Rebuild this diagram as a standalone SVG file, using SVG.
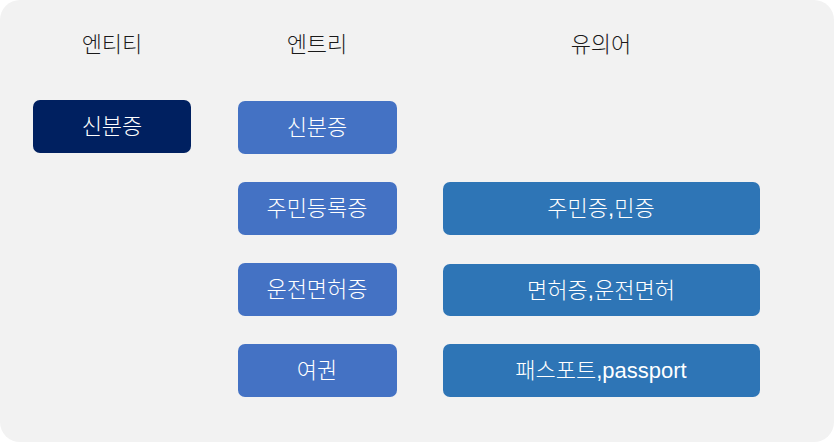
<svg xmlns="http://www.w3.org/2000/svg" width="834" height="442" viewBox="0 0 834 442">
<style>
.t{font-family:"Liberation Sans","Noto Sans CJK KR",sans-serif;font-size:22px;text-anchor:middle;dominant-baseline:central;font-weight:300}
.h{fill:#1a1a1a}
.w{fill:#ffffff}
.ent{fill:#002060}
.en{fill:#4472c4}
.syn{fill:#2e75b6}
</style>
<rect x="0" y="0" width="834" height="442" rx="20" fill="#f2f2f2"/>
<g id="headers">
<text class="t h" x="112" y="44">엔티티</text>
<text class="t h" x="317" y="44">엔트리</text>
<text class="t h" x="601" y="44">유의어</text>
</g>
<g id="entity">
<rect class="ent" x="33" y="100" width="158" height="53" rx="7"/>
<text class="t w" x="112" y="126">신분증</text>
</g>
<g id="entry1">
<rect class="en" x="238" y="101" width="159" height="53" rx="7"/>
<text class="t w" x="317" y="127">신분증</text>
</g>
<g id="entry2">
<rect class="en" x="238" y="182" width="159" height="53" rx="7"/>
<text class="t w" x="317" y="208">주민등록증</text>
</g>
<g id="entry3">
<rect class="en" x="238" y="263" width="159" height="53" rx="7"/>
<text class="t w" x="317" y="289">운전면허증</text>
</g>
<g id="entry4">
<rect class="en" x="238" y="344" width="159" height="53" rx="7"/>
<text class="t w" x="317" y="370">여권</text>
</g>
<g id="syn1">
<rect class="syn" x="443" y="182" width="317" height="53" rx="7"/>
<text class="t w" x="601" y="208">주민증,민증</text>
</g>
<g id="syn2">
<rect class="syn" x="443" y="264" width="317" height="52" rx="7"/>
<text class="t w" x="601" y="290">면허증,운전면허</text>
</g>
<g id="syn3">
<rect class="syn" x="443" y="344" width="317" height="53" rx="7"/>
<text class="t w" x="601" y="370">패스포트,passport</text>
</g>
<g id="connectors"/>
</svg>
